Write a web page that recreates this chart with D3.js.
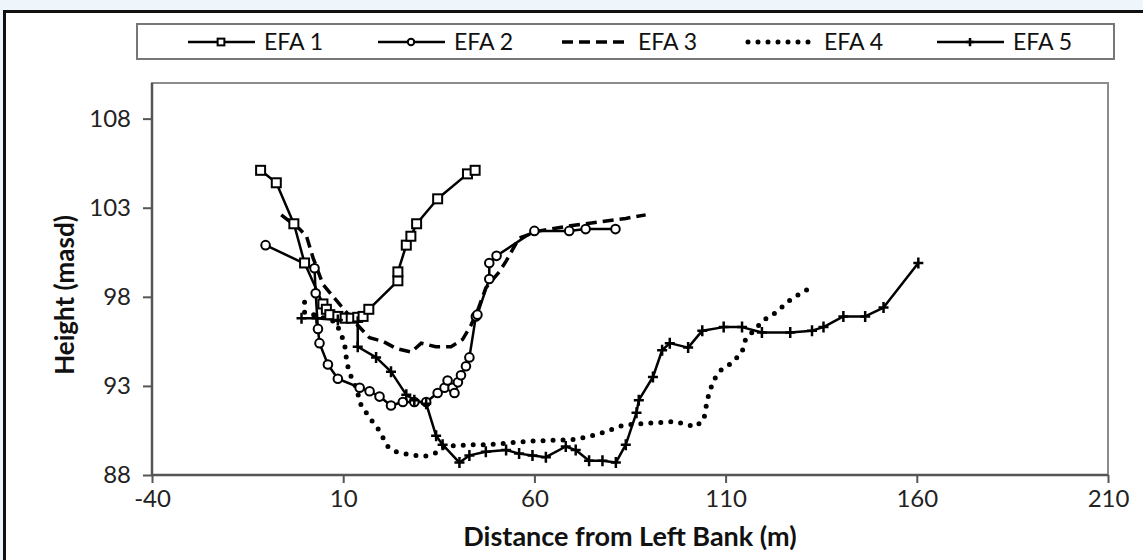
<!DOCTYPE html>
<html>
<head>
<meta charset="utf-8">
<script src="https://cdn.jsdelivr.net/npm/d3@7"></script>
<style>
  html, body { margin: 0; padding: 0; background: #eef5fb; }
  svg { display: block; }
</style>
</head>
<body>
<svg id="chart" width="1143" height="560"></svg>
<script>
// ---- Data ----
const seriesNames = ["EFA 1", "EFA 2", "EFA 3", "EFA 4", "EFA 5"];
const xTicks = [-40, 10, 60, 110, 160, 210];
const yTicks = [88, 93, 98, 103, 108];

const efa1 = [[-11.6,105.1],[-7.5,104.4],[-2.9,102.1],[-0.1,99.9],[4.7,97.6],[5.6,97.3],[6.5,97.0],[8.6,96.9],[10.5,96.8],[12.1,96.8],[13.8,96.85],[15.2,96.9],[16.7,97.3],[24.3,98.9],[24.3,99.4],[26.5,100.9],[27.7,101.4],[29.2,102.1],[34.7,103.5],[42.5,104.9],[44.5,105.1]];
const efa2 = [[-10.3,100.9],[2.5,99.6],[2.8,98.2],[3.4,96.2],[3.8,95.4],[6.0,94.2],[8.6,93.4],[14.3,92.9],[16.9,92.7],[19.5,92.4],[22.5,91.9],[25.6,92.1],[28.6,92.1],[31.7,92.1],[34.7,92.6],[36.5,92.9],[37.3,93.3],[38.6,92.9],[39.1,92.6],[40.0,93.2],[40.8,93.6],[42.1,94.1],[43.0,94.6],[44.7,96.9],[45.1,97.0],[48.2,99.0],[48.2,99.9],[50.1,100.3],[60.0,101.7],[69.1,101.7],[73.4,101.8],[81.2,101.8]];
const efa3 = [[-6.2,102.6],[-1.4,101.8],[0.4,101.4],[2.1,100.2],[4.7,98.7],[8.6,97.7],[13.4,96.5],[16.9,95.7],[20.4,95.5],[23.9,95.1],[27.8,94.9],[30.4,95.4],[34.2,95.2],[38.2,95.2],[41.2,95.6],[43.4,96.4],[45.1,97.2],[47.3,98.5],[50.8,99.4],[52.6,100.0],[56.0,101.3],[61.3,101.7],[69.9,102.0],[76.9,102.2],[83.9,102.4],[89.1,102.6]];
const efa4 = [[-0.1,97.7],[-0.1,97.1],[2.1,97.0],[8.0,96.6],[9.5,95.9],[10.4,95.3],[10.8,94.6],[11.2,94.1],[12.1,93.5],[13.4,92.9],[14.7,91.9],[16.0,91.5],[17.3,91.1],[19.1,90.6],[20.4,90.1],[21.7,89.6],[23.9,89.3],[26.0,89.2],[28.6,89.1],[31.2,89.05],[33.9,89.2],[36.5,89.6],[43.0,89.7],[47.3,89.7],[59.5,89.9],[70.8,90.0],[76.9,90.3],[83.4,90.8],[89.1,90.9],[96.9,91.0],[102.1,90.7],[104.3,91.1],[105.2,92.2],[106.0,92.8],[106.9,93.3],[108.2,93.8],[111.7,94.3],[114.3,94.9],[115.2,95.6],[116.9,96.0],[120.0,96.7],[123.0,97.1],[127.3,97.9],[131.3,98.4]];
const efa5 = [[-0.9,96.8],[3.0,96.8],[8.6,96.7],[13.8,96.6],[13.8,95.2],[18.6,94.6],[22.5,93.8],[26.5,92.5],[28.6,92.2],[31.7,92.0],[34.3,90.2],[36.0,89.7],[40.4,88.7],[43.0,89.1],[47.3,89.3],[52.6,89.4],[56.0,89.2],[59.5,89.1],[63.0,89.0],[68.2,89.6],[70.8,89.4],[74.3,88.8],[77.8,88.8],[81.3,88.7],[83.9,89.7],[86.7,91.5],[87.3,92.2],[91.0,93.5],[93.4,95.0],[95.4,95.4],[100.2,95.15],[103.9,96.1],[109.5,96.3],[114.3,96.3],[119.5,96.0],[126.9,96.0],[132.6,96.1],[135.6,96.3],[140.8,96.9],[146.5,96.9],[151.3,97.4],[160.4,99.9]];

const allSeries = [efa1, efa2, efa3, efa4, efa5];
const markerTypes = ["square", "circle", "none", "none", "plus"];
const dashTypes = ["solid", "solid", "dash", "dot", "solid"];

// ---- Layout ----
const svg = d3.select("#chart");
const FONT = "Lato, 'Open Sans', sans-serif";
const pL = 152, pR = 1108, pT = 83, pB = 475;

const x = d3.scaleLinear().domain([-40, 210]).range([pL, pR]);
const y = d3.scaleLinear().domain([88, 110]).range([pB, pT]);

// outer frame
svg.append("rect").attr("x", 0).attr("y", 0).attr("width", 1143).attr("height", 560).attr("fill", "#eef5fb");
svg.append("rect").attr("x", 4.5).attr("y", 11.5).attr("width", 1160).attr("height", 600)
  .attr("fill", "#ffffff").attr("stroke", "#111").attr("stroke-width", 3);

// plot border (top/right gray)
svg.append("rect").attr("x", pL).attr("y", pT).attr("width", pR - pL).attr("height", pB - pT)
  .attr("fill", "none").attr("stroke", "#8c8c8c").attr("stroke-width", 2);

// axes
const xAxis = d3.axisBottom(x).tickValues(xTicks).tickSize(8).tickPadding(7).tickFormat(d => String(d));
const yAxis = d3.axisLeft(y).tickValues(yTicks).tickSize(9).tickPadding(12).tickFormat(d => String(d));

const gx = svg.append("g").attr("transform", `translate(0,${pB})`).call(xAxis);
const gy = svg.append("g").attr("transform", `translate(${pL},0)`).call(yAxis);
[gx, gy].forEach(g => {
  g.select(".domain").attr("stroke", "#555").attr("stroke-width", 2.5);
  g.selectAll(".tick line").attr("stroke", "#555").attr("stroke-width", 2);
  g.selectAll(".tick text").attr("fill", "#222").style("font-family", FONT).style("font-size", "24px");
});
gy.select(".domain").attr("d", `M0,${pT}V${pB}`);
gx.select(".domain").attr("d", `M${pL},0H${pR}`);

// axis titles
svg.append("text").attr("x", (pL + pR) / 2).attr("y", 546).attr("text-anchor", "middle")
  .style("font-family", FONT).style("font-size", "27px").style("font-weight", "bold").attr("fill", "#111")
  .text("Distance from Left Bank (m)");
svg.append("text").attr("transform", `translate(74,${(pT + pB) / 2 + 16}) rotate(-90)`).attr("text-anchor", "middle")
  .style("font-family", FONT).style("font-size", "26px").style("font-weight", "bold").attr("fill", "#111")
  .text("Height (masd)");

// lines
const line = d3.line().x(d => x(d[0])).y(d => y(d[1]));
const plot = svg.append("g");

function styleLine(sel, type) {
  sel.attr("fill", "none").attr("stroke", "#000");
  if (type === "solid") sel.attr("stroke-width", 2.5).attr("stroke-linejoin", "round");
  else if (type === "dash") sel.attr("stroke-width", 3.5).attr("stroke-dasharray", "11,6");
  else if (type === "dot") sel.attr("stroke-width", 5).attr("stroke-dasharray", "0,10").attr("stroke-linecap", "round");
}

function drawMarker(g, type, cx, cy, scale) {
  const s = scale || 1;
  if (type === "square") {
    g.append("rect").attr("x", cx - 4.5 * s).attr("y", cy - 4.5 * s).attr("width", 9 * s).attr("height", 9 * s)
      .attr("fill", "#fff").attr("stroke", "#000").attr("stroke-width", 2);
  } else if (type === "circle") {
    g.append("circle").attr("cx", cx).attr("cy", cy).attr("r", 4.3 * s)
      .attr("fill", "#fff").attr("stroke", "#000").attr("stroke-width", 2);
  } else if (type === "plus") {
    g.append("path").attr("d", `M${cx - 5 * s},${cy}H${cx + 5 * s}M${cx},${cy - 5.5 * s}V${cy + 5.5 * s}`)
      .attr("stroke", "#000").attr("stroke-width", 2.5);
  }
}

allSeries.forEach((data, i) => {
  plot.append("path").datum(data).attr("d", line).call(styleLine, dashTypes[i]);
});
allSeries.forEach((data, i) => {
  const mg = plot.append("g");
  data.forEach(d => drawMarker(mg, markerTypes[i], x(d[0]), y(d[1]), 1));
});

// legend
svg.append("rect").attr("x", 137).attr("y", 24).attr("width", 977).attr("height", 35)
  .attr("fill", "#fff").attr("stroke", "#777").attr("stroke-width", 2);
const legendX = [188, 378, 562, 748, 937];
seriesNames.forEach((name, i) => {
  const lx = legendX[i], ly = 42;
  const lg = svg.append("g");
  lg.append("path").attr("d", `M${lx},${ly}H${lx + 67}`).call(styleLine, dashTypes[i]);
  drawMarker(lg, markerTypes[i], lx + 33, ly, 0.75);
  lg.append("text").attr("x", lx + 76).attr("y", ly + 8).style("font-family", FONT).style("font-size", "23px")
    .attr("fill", "#111").text(name);
});
</script>
</body>
</html>
